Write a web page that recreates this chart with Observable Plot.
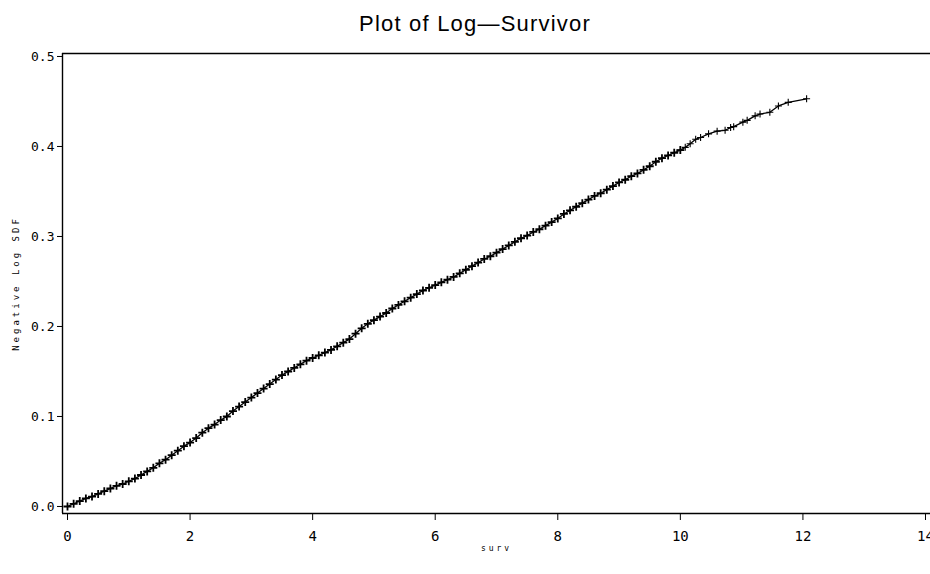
<!DOCTYPE html>
<html><head><meta charset="utf-8">
<script src="https://cdn.jsdelivr.net/npm/d3@7"></script>
<script src="https://cdn.jsdelivr.net/npm/@observablehq/plot@0.6"></script>
<style>
body{margin:0;background:#fff;width:930px;height:574px;overflow:hidden;}
#title{height:40px;position:relative;}
#title span{position:absolute;left:0;width:950px;text-align:center;top:11px;font:22px "Liberation Sans",Arial,sans-serif;letter-spacing:1.2px;color:#000;}
#chart svg .ylab text{letter-spacing:3px;}
#chart svg .xlab text{letter-spacing:3px;}
</style></head><body>
<div id="title"><span>Plot of Log—Survivor</span></div>
<div id="chart"></div>
<script>
const survTimes = [0.0,0.1,0.2,0.3,0.4,0.5,0.6,0.7,0.8,0.9,1.0,1.1,1.2,1.3,1.4,1.5,1.6,1.7,1.8,1.9,2.0,2.1,2.2,2.3,2.4,2.5,2.6,2.7,2.8,2.9,3.0,3.1,3.2,3.3,3.4,3.5,3.6,3.7,3.8,3.9,4.0,4.1,4.2,4.3,4.4,4.5,4.6,4.7,4.8,4.9,5.0,5.1,5.2,5.3,5.4,5.5,5.6,5.7,5.8,5.9,6.0,6.1,6.2,6.3,6.4,6.5,6.6,6.7,6.8,6.9,7.0,7.1,7.2,7.3,7.4,7.5,7.6,7.7,7.8,7.9,8.0,8.1,8.2,8.3,8.4,8.5,8.6,8.7,8.8,8.9,9.0,9.1,9.2,9.3,9.4,9.5,9.6,9.7,9.8,9.9,10.0,10.08,10.16,10.25,10.33,10.46,10.6,10.73,10.82,10.87,11.02,11.09,11.22,11.3,11.46,11.6,11.76,12.06];
const negLogSdf = [0.000,0.003,0.006,0.009,0.011,0.014,0.017,0.020,0.023,0.025,0.028,0.031,0.035,0.039,0.043,0.048,0.052,0.057,0.062,0.067,0.071,0.076,0.082,0.087,0.091,0.096,0.100,0.106,0.111,0.116,0.121,0.126,0.131,0.136,0.141,0.146,0.150,0.154,0.158,0.162,0.165,0.168,0.171,0.174,0.178,0.182,0.186,0.192,0.198,0.203,0.207,0.211,0.215,0.220,0.224,0.228,0.232,0.236,0.240,0.243,0.246,0.249,0.252,0.255,0.259,0.263,0.267,0.271,0.275,0.278,0.282,0.286,0.290,0.294,0.298,0.301,0.305,0.308,0.312,0.316,0.320,0.325,0.329,0.333,0.337,0.341,0.345,0.348,0.352,0.356,0.360,0.363,0.367,0.370,0.374,0.378,0.383,0.387,0.390,0.393,0.396,0.399,0.403,0.408,0.410,0.414,0.417,0.418,0.421,0.422,0.427,0.429,0.434,0.436,0.438,0.445,0.449,0.453];
const xTicks = [0,2,4,6,8,10,12,14];
const yTicks = [0.0,0.1,0.2,0.3,0.4,0.5];
const xDomain = [-0.0816, 14.0816];
const yDomain = [-0.0078, 0.5033];
const titleText = "Plot of Log—Survivor";
const xLabel = "surv";
const yLabel = "Negative Log SDF";

const data = survTimes.map((t, i) => ({t, s: negLogSdf[i]}));
const dense = data.filter(d => d.t <= 10);
const sparse = data.filter(d => d.t >= 10);
const plusSymbol = {draw(ctx, size) { const r = Math.sqrt(size / Math.PI); ctx.moveTo(-r, 0); ctx.lineTo(r, 0); ctx.moveTo(0, -r); ctx.lineTo(0, r); }};
const monoFont = "'DejaVu Sans Mono','Liberation Mono',monospace";

const chart = Plot.plot({
  width: 930, height: 534,
  marginTop: 13, marginBottom: 61, marginLeft: 62, marginRight: 0,
  style: {fontFamily: monoFont, fontSize: "12px", color: "#000", background: "#fff"},
  x: {domain: xDomain, range: [62, 930]},
  y: {domain: yDomain},
  marks: [
    Plot.ruleY([yDomain[0], yDomain[1]], {stroke: "#000", strokeWidth: 1.4}),
    Plot.ruleX([xDomain[0]], {stroke: "#000", strokeWidth: 1.4}),
    Plot.axisY(yTicks, {tickSize: 5, tickPadding: 3, tickFormat: d3.format(".1f"), label: null, fontSize: 13, fontFamily: monoFont}),
    Plot.axisX(xTicks, {tickSize: 7, tickPadding: 11, tickFormat: d3.format("d"), label: null, fontSize: 14, fontFamily: monoFont}),
    Plot.line(data, {x: "t", y: "s", stroke: "#000", strokeWidth: 1.3}),
    Plot.dot(dense, {x: "t", y: "s", symbol: plusSymbol, r: 4, stroke: "#000", strokeWidth: 1.8, fill: "none"}),
    Plot.dot(sparse, {x: "t", y: "s", symbol: plusSymbol, r: 3.5, stroke: "#000", strokeWidth: 1.1, fill: "none"}),
    Plot.text([yLabel], {frameAnchor: "left", textAnchor: "middle", rotate: -90, dx: -46, fontSize: 9, fontFamily: monoFont, className: "ylab"}),
    Plot.text([xLabel], {frameAnchor: "bottom", textAnchor: "middle", lineAnchor: "middle", dy: 35, fontSize: 8, fontFamily: monoFont, className: "xlab"})
  ]
});
document.getElementById("chart").appendChild(chart);
document.querySelector("#title span").textContent = titleText;
</script></body></html>
